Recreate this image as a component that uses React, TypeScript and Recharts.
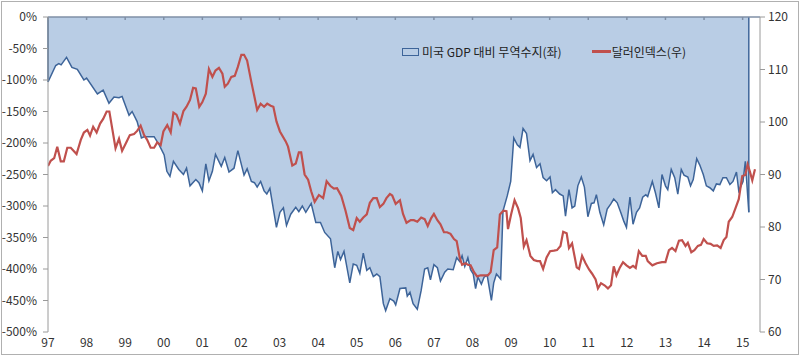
import React from 'react';
import { ComposedChart, Area, Line, XAxis, YAxis, Legend, ReferenceLine } from 'recharts';

const tradeYears = [
  1997.00, 1997.20, 1997.28, 1997.34, 1997.48, 1997.62, 1997.76, 1997.93, 1998.00, 1998.28,
  1998.43, 1998.58, 1998.71, 1998.84, 1998.92, 1999.10, 1999.18, 1999.31, 1999.42, 1999.49,
  1999.75, 1999.88, 2000.01, 2000.08, 2000.16, 2000.25, 2000.39, 2000.51, 2000.59, 2000.68,
  2000.83, 2000.91, 2001.00, 2001.09, 2001.17, 2001.26, 2001.34, 2001.49, 2001.58, 2001.69,
  2001.82, 2001.92, 2002.08, 2002.16, 2002.27, 2002.35, 2002.42, 2002.51, 2002.60, 2002.67,
  2002.75, 2002.92, 2003.01, 2003.10, 2003.18, 2003.29, 2003.42, 2003.50, 2003.59, 2003.68,
  2003.82, 2003.94, 2004.06, 2004.17, 2004.32, 2004.43, 2004.51, 2004.58, 2004.67, 2004.82,
  2004.91, 2005.00, 2005.08, 2005.17, 2005.26, 2005.34, 2005.43, 2005.52, 2005.60, 2005.69,
  2005.75, 2005.86, 2005.96, 2006.01, 2006.12, 2006.27, 2006.31, 2006.38, 2006.46, 2006.57,
  2006.67, 2006.76, 2006.84, 2006.91, 2007.00, 2007.09, 2007.17, 2007.28, 2007.36, 2007.50,
  2007.59, 2007.67, 2007.73, 2007.80, 2007.88, 2007.95, 2008.02, 2008.08, 2008.14, 2008.23,
  2008.30, 2008.38, 2008.49, 2008.55, 2008.62, 2008.73, 2008.79, 2008.90, 2008.99, 2009.07,
  2009.16, 2009.23, 2009.31, 2009.40, 2009.49, 2009.57, 2009.66, 2009.75, 2009.83, 2009.92,
  2010.01, 2010.07, 2010.15, 2010.26, 2010.35, 2010.41, 2010.50, 2010.58, 2010.65, 2010.73,
  2010.82, 2010.90, 2010.99, 2011.08, 2011.15, 2011.21, 2011.30, 2011.40, 2011.49, 2011.58,
  2011.66, 2011.75, 2011.84, 2011.92, 2011.99, 2012.08, 2012.16, 2012.25, 2012.33, 2012.41,
  2012.49, 2012.54, 2012.66, 2012.74, 2012.83, 2012.91, 2013.00, 2013.06, 2013.15, 2013.24,
  2013.32, 2013.41, 2013.48, 2013.58, 2013.65, 2013.72, 2013.81, 2013.89, 2013.98, 2014.06,
  2014.15, 2014.24, 2014.32, 2014.41, 2014.49, 2014.58, 2014.67, 2014.75, 2014.84, 2014.90,
  2015.01, 2015.07, 2015.16,
];
const tradeValues = [
  -103, -77, -74, -76, -64, -80, -83, -100, -97, -122,
  -116, -137, -127, -128, -126, -156, -150, -166, -192, -190,
  -190, -203, -219, -245, -253, -229, -242, -250, -240, -268,
  -258, -263, -276, -233, -260, -245, -218, -237, -223, -246,
  -240, -212, -251, -241, -261, -263, -270, -261, -276, -281,
  -272, -334, -310, -303, -331, -313, -302, -309, -300, -310,
  -296, -326, -326, -342, -352, -398, -372, -385, -372, -422,
  -392, -394, -407, -375, -402, -398, -412, -408, -412, -455,
  -466, -447, -451, -457, -431, -430, -443, -437, -455, -464,
  -434, -400, -398, -417, -393, -398, -419, -405, -400, -401,
  -382, -388, -379, -396, -382, -401, -408, -431, -413, -424,
  -413, -410, -450, -422, -408, -416, -308, -284, -261, -192,
  -203, -207, -177, -185, -228, -218, -239, -233, -255, -260,
  -254, -279, -274, -281, -284, -316, -274, -303, -300, -268,
  -254, -270, -317, -296, -295, -282, -310, -330, -305, -297,
  -289, -295, -310, -324, -334, -286, -329, -310, -303, -286,
  -282, -285, -261, -279, -303, -250, -268, -274, -242, -255,
  -281, -242, -251, -254, -268, -258, -225, -235, -250, -268,
  -271, -276, -265, -266, -255, -255, -266, -261, -246, -276,
  -261, -229, -310,
];

const dollarYears = [
  1997.00, 1997.07, 1997.16, 1997.24, 1997.33, 1997.41, 1997.50, 1997.59, 1997.74, 1997.85,
  1997.93, 1998.02, 1998.09, 1998.17, 1998.26, 1998.35, 1998.43, 1998.52, 1998.59, 1998.67,
  1998.75, 1998.84, 1998.92, 1999.04, 1999.12, 1999.23, 1999.31, 1999.40, 1999.49, 1999.57,
  1999.66, 1999.75, 1999.83, 1999.92, 1999.99, 2000.09, 2000.18, 2000.25, 2000.33, 2000.42,
  2000.51, 2000.59, 2000.68, 2000.76, 2000.83, 2000.92, 2001.00, 2001.09, 2001.17, 2001.26,
  2001.34, 2001.43, 2001.52, 2001.58, 2001.66, 2001.75, 2001.84, 2001.92, 2002.01, 2002.08,
  2002.16, 2002.27, 2002.42, 2002.51, 2002.60, 2002.68, 2002.77, 2002.84, 2002.92, 2003.01,
  2003.16, 2003.22, 2003.33, 2003.42, 2003.50, 2003.56, 2003.65, 2003.74, 2003.82, 2003.91,
  2004.02, 2004.13, 2004.22, 2004.32, 2004.41, 2004.49, 2004.60, 2004.71, 2004.82, 2004.91,
  2005.00, 2005.08, 2005.17, 2005.26, 2005.34, 2005.43, 2005.52, 2005.60, 2005.69, 2005.77,
  2005.86, 2005.92, 2006.01, 2006.12, 2006.20, 2006.29, 2006.40, 2006.48, 2006.57, 2006.67,
  2006.76, 2006.84, 2006.93, 2007.00, 2007.09, 2007.17, 2007.26, 2007.34, 2007.43, 2007.52,
  2007.59, 2007.67, 2007.73, 2007.82, 2007.88, 2007.95, 2008.04, 2008.12, 2008.21, 2008.30,
  2008.40, 2008.47, 2008.55, 2008.64, 2008.71, 2008.80, 2008.88, 2008.92, 2009.00, 2009.09,
  2009.18, 2009.25, 2009.33, 2009.40, 2009.50, 2009.59, 2009.68, 2009.75, 2009.83, 2009.92,
  2010.01, 2010.11, 2010.19, 2010.28, 2010.35, 2010.44, 2010.50, 2010.58, 2010.70, 2010.76,
  2010.84, 2010.93, 2011.02, 2011.10, 2011.19, 2011.25, 2011.33, 2011.42, 2011.51, 2011.59,
  2011.66, 2011.73, 2011.82, 2011.90, 2011.99, 2012.08, 2012.16, 2012.23, 2012.31, 2012.40,
  2012.49, 2012.54, 2012.66, 2012.78, 2012.91, 2013.00, 2013.09, 2013.17, 2013.26, 2013.35,
  2013.43, 2013.52, 2013.58, 2013.67, 2013.75, 2013.84, 2013.92, 2013.99, 2014.08, 2014.17,
  2014.25, 2014.34, 2014.43, 2014.51, 2014.58, 2014.64, 2014.73, 2014.82, 2014.90, 2014.99,
  2015.07, 2015.13, 2015.19, 2015.25, 2015.32,
];
const dollarValues = [
  91.6, 92.6, 93.1, 95.3, 92.5, 92.5, 95.1, 95.1, 93.9, 96.6,
  98.0, 98.5, 97.4, 99.1, 98.0, 99.7, 100.6, 102.0, 102.0, 98.5,
  95.0, 96.8, 94.5, 96.3, 97.5, 97.7, 98.3, 99.3, 97.5, 96.6,
  95.1, 95.1, 96.1, 95.6, 98.2, 99.4, 98.0, 101.8, 101.4, 99.7,
  102.1, 102.9, 104.2, 106.5, 106.4, 102.9, 103.8, 105.4, 110.1, 108.6,
  109.8, 110.3, 109.2, 106.7, 107.3, 108.6, 108.8, 110.5, 112.8, 112.8,
  111.7, 107.6, 102.3, 103.5, 102.9, 103.5, 103.1, 102.9, 100.1, 98.2,
  96.3, 95.3, 91.7, 92.1, 94.2, 94.2, 90.0, 89.0, 86.8, 84.8,
  86.1, 85.5, 88.7, 87.8, 87.3, 87.4, 85.9, 83.1, 79.8, 79.4,
  81.7, 81.0, 81.8, 82.4, 84.6, 85.5, 85.5, 83.8, 84.4, 85.5,
  86.3, 86.0, 84.4, 85.1, 82.5, 80.8, 81.3, 81.3, 81.0, 81.8,
  81.5, 80.2, 81.7, 82.5, 81.3, 80.5, 79.0, 79.0, 78.7, 77.7,
  77.3, 74.1, 72.8, 73.1, 72.8, 72.7, 71.4, 70.6, 70.8, 70.8,
  70.8, 71.4, 75.6, 76.1, 82.4, 83.1, 83.0, 79.6, 82.4, 85.1,
  83.6, 81.7, 76.3, 77.5, 74.5, 73.7, 73.5, 73.5, 72.0, 74.2,
  75.4, 75.5, 75.6, 76.4, 79.1, 78.8, 76.0, 76.9, 72.3, 72.0,
  74.5, 73.1, 71.9, 71.1, 70.0, 68.3, 69.3, 68.9, 68.3, 68.9,
  72.5, 70.8, 72.3, 73.3, 72.7, 72.2, 72.6, 72.2, 75.4, 74.5,
  74.5, 73.5, 72.7, 73.1, 73.3, 73.3, 75.6, 76.0, 75.4, 77.4,
  77.5, 76.4, 77.0, 75.2, 75.6, 76.4, 76.6, 77.7, 76.9, 76.8,
  76.4, 76.5, 76.0, 77.5, 78.1, 81.0, 81.9, 83.7, 85.3, 89.7,
  89.9, 91.9, 90.5, 88.9, 91.0,
];

const yearTicks = [1997, 1998, 1999, 2000, 2001, 2002, 2003, 2004, 2005, 2006, 2007, 2008, 2009, 2010, 2011, 2012, 2013, 2014, 2015];
const leftTicks = [0, -50, -100, -150, -200, -250, -300, -350, -400, -450, -500];
const rightTicks = [60, 70, 80, 90, 100, 110, 120];

const tradeName = '미국 GDP 대비 무역수지(좌)';
const dollarName = '달러인덱스(우)';

const BLUE_FILL = '#b9cde5';
const BLUE_LINE = '#3d6499';
const RED = '#c0504d';
const AXIS = '#9a9a9a';
const TEXT = '#333333';
const FONT = "'Noto Sans CJK KR', 'Noto Sans', sans-serif";

type Row = { x: number; trade?: number; dollar?: number };

const data: Row[] = (() => {
  const rows: Row[] = [];
  tradeYears.forEach((x, i) => rows.push({ x, trade: tradeValues[i] }));
  dollarYears.forEach((x, i) => rows.push({ x, dollar: dollarValues[i] }));
  rows.sort((a, b) => a.x - b.x);
  return rows;
})();

const firstX = tradeYears[0];
const lastX = tradeYears[tradeYears.length - 1];
const firstVal = tradeValues[0];
const lastVal = tradeValues[tradeValues.length - 1];

const renderLegend = () => (
  <div style={{ display: 'flex', alignItems: 'center', fontFamily: FONT, fontSize: 12, color: '#222', whiteSpace: 'nowrap' }}>
    <span style={{ display: 'inline-block', width: 15, height: 6, background: BLUE_FILL, border: `1.5px solid ${BLUE_LINE}`, marginRight: 3 }} />
    <span>{tradeName}</span>
    <span style={{ display: 'inline-block', width: 19, height: 2.5, background: RED, marginLeft: 30, marginRight: 1 }} />
    <span>{dollarName}</span>
  </div>
);

export default function App() {
  return (
    <div style={{ position: 'absolute', left: 0, top: 0, width: 800, height: 356, background: '#fff' }}>
      <ComposedChart
        width={800}
        height={356}
        data={data}
        margin={{ top: 0, right: 0, bottom: 0, left: 0 }}
      >
        <XAxis
          xAxisId="top"
          orientation="top"
          type="number"
          dataKey="x"
          domain={[1997, 2015.45]}
          allowDataOverflow
          ticks={yearTicks}
          height={14}
          mirror
          tickSize={3}
          tickFormatter={() => ''}
          stroke="#7f8fa6"
          strokeWidth={1.5}
        />
        <XAxis
          xAxisId="bottom"
          orientation="bottom"
          type="number"
          dataKey="x"
          domain={[1997, 2015.45]}
          allowDataOverflow
          ticks={yearTicks}
          height={24}
          axisLine={false}
          tickLine={false}
          tickSize={4}
          tickMargin={2}
          tickFormatter={(v: number) => String(v % 100).padStart(2, '0')}
          tick={{ fontSize: 12, fill: TEXT, fontFamily: FONT }}
        />
        <YAxis
          yAxisId="left"
          orientation="left"
          width={48}
          domain={[-500, 0]}
          ticks={leftTicks}
          interval={0}
          tickFormatter={(v: number) => `${v}%`}
          tickSize={5}
          tickMargin={6}
          stroke={AXIS}
          tick={{ fontSize: 12, fill: TEXT, fontFamily: FONT }}
        />
        <YAxis
          yAxisId="right"
          orientation="right"
          width={40}
          domain={[60, 120]}
          ticks={rightTicks}
          interval={0}
          tickSize={5}
          tickMargin={3}
          stroke={AXIS}
          tick={{ fontSize: 12, fill: TEXT, fontFamily: FONT }}
        />
        <Legend
          content={renderLegend}
          verticalAlign="top"
          wrapperStyle={{ position: 'absolute', top: 43, left: 402, width: 330 }}
        />
        <Area
          xAxisId="bottom"
          yAxisId="left"
          type="linear"
          dataKey="trade"
          name={tradeName}
          baseValue={0}
          connectNulls
          fill={BLUE_FILL}
          fillOpacity={1}
          stroke={BLUE_LINE}
          strokeWidth={1.5}
          dot={false}
          activeDot={false}
          isAnimationActive={false}
        />
        <ReferenceLine
          xAxisId="bottom"
          yAxisId="left"
          segment={[{ x: firstX, y: 0 }, { x: firstX, y: firstVal }]}
          stroke={BLUE_LINE}
          strokeWidth={1.5}
        />
        <ReferenceLine
          xAxisId="bottom"
          yAxisId="left"
          segment={[{ x: lastX, y: 0 }, { x: lastX, y: lastVal }]}
          stroke={BLUE_LINE}
          strokeWidth={1.5}
        />
        <Line
          xAxisId="bottom"
          yAxisId="right"
          type="linear"
          dataKey="dollar"
          name={dollarName}
          connectNulls
          stroke={RED}
          strokeWidth={2.2}
          dot={false}
          activeDot={false}
          isAnimationActive={false}
        />
      </ComposedChart>
      <div
        style={{
          position: 'absolute',
          left: 1,
          top: 1,
          width: 796,
          height: 352,
          border: '1px solid #b0b0b0',
          pointerEvents: 'none',
        }}
      />
    </div>
  );
}
